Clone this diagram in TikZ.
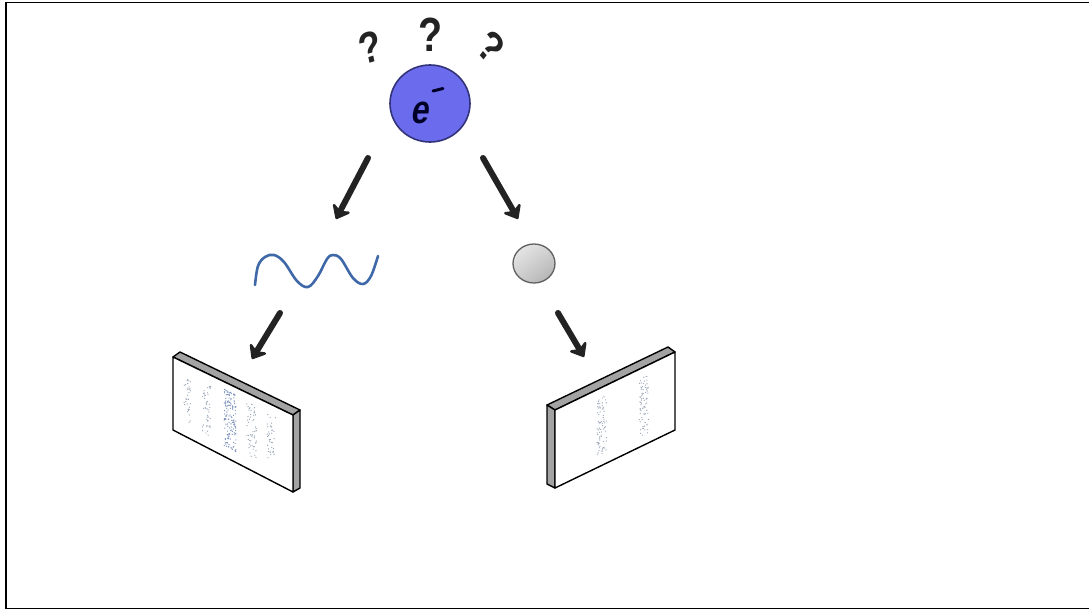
\documentclass[tikz,border=0pt]{standalone}
\usepackage{fontspec}
\newfontfamily\qfont{Liberation Sans}
\usetikzlibrary{arrows.meta,calc,shadings,shapes.geometric}
\definecolor{ink}{HTML}{232323}
\definecolor{elfill}{HTML}{6B6BEE}
\definecolor{eledge}{HTML}{33337A}
\definecolor{wave}{HTML}{3F68A8}
\definecolor{dotc}{HTML}{9AA6B8}
\definecolor{dotb}{HTML}{7A8FBA}
\definecolor{strip}{HTML}{A3A3A3}
\tikzset{
  flow/.style={ink, line width=6pt, line cap=round,
    -{Stealth[length=15pt, width=24pt, inset=5pt, round]}},
  qmark/.style={font=\qfont\bfseries\fontsize{44}{44}\selectfont, text=ink,
    inner sep=0pt, xscale=0.82},
  screenface/.style={draw=black, line width=1.4pt, line join=round, fill=white},
  screenrim/.style={draw=black, line width=1.4pt, line join=round, fill=strip},
}
% scatter dots in a band of a screen face: A = top-left, (bx,by) = top edge
\newcommand{\dotband}[9]{%
  \foreach \k in {1,...,#7}{%
    \pgfmathsetmacro\uu{#5+#6*rand}%
    \pgfmathsetmacro\vv{#8+(#9-#8)*rnd}%
    \fill[\dotcol] ({#1+\uu*#3},{#2+\uu*#4+\vv*\dyface}) circle (0.65);
  }%
}
\begin{document}
\begin{tikzpicture}[x=1pt, y=-1pt]
\useasboundingbox (0,0) rectangle (1089,610);
% frame
\draw[line width=2.3pt] (6.2,1.6) -- (6.2,609.4);
\draw[line width=1.3pt] (5,2.3) -- (1089,2.3);
\draw[line width=1.2pt] (5,608.8) -- (1089,608.8);

% question marks
\node[qmark, rotate=14] (q1) at (370,47) {?};
\node[qmark, font=\qfont\bfseries\fontsize{48}{48}\selectfont] (q2) at (431,35) {?};
\node[qmark, rotate=-42] (q3) at (491,47) {?};

% electron
\node[ellipse, minimum width=80pt, minimum height=77pt, fill=elfill, draw=eledge,
      line width=1.6pt, inner sep=0pt] (el) at (430,103.5) {};
\node[font=\qfont\bfseries\fontsize{32}{32}\selectfont, text=black!85!blue,
      yscale=1.25, xslant=0.22, inner sep=0pt] (e) at (421,113) {e};
\draw[line width=3pt, black!85!blue, line cap=round] (433,91) -- (443,88.5);

% arrows from the electron
\coordinate (a1s) at (368,158);
\coordinate (a1e) at (336,219);
\coordinate (a2s) at (483,158);
\coordinate (a2e) at (518,219);
\draw[flow] (a1s) -- (a1e);
\draw[flow] (a2s) -- (a2e);

% wave
\draw[wave, line width=2.6pt, line cap=round, line join=round]
  plot[smooth, tension=0.6] coordinates {(255,285) (258,266) (265,257) (274,255) (284,262) (297,281) (308,287) (318,276) (327,259) (333,255) (341,259) (353,278) (363,284) (371,276) (378,256)};

% particle
\shade[upper left=gray!15, upper right=gray!35, lower left=gray!40, lower right=gray!65,
       draw=gray!75!black, line width=1.3pt]
  (534,263.5) ellipse (21 and 19.5);

% arrows to the screens
\coordinate (a3s) at (280,313);
\coordinate (a3e) at (252,359);
\coordinate (a4s) at (558,313);
\coordinate (a4e) at (584,357);
\draw[flow] (a3s) -- (a3e);
\draw[flow] (a4s) -- (a4e);

% left screen
\path[screenrim] (173,357) -- (180,352) -- (300,410) -- (293,415) -- cycle;
\path[screenrim] (293,415) -- (300,410) -- (300,488) -- (293,492) -- cycle;
\path[screenface] (173,357) -- (293,415) -- (293,492) -- (173,430) -- cycle;
\pgfmathsetseed{11}
\def\dyface{73}
\def\dotcol{dotc}
\dotband{173}{357}{120}{58}{0.116}{0.03}{34}{0.18}{0.82}
\dotband{173}{357}{120}{58}{0.28}{0.035}{45}{0.15}{0.85}
\dotband{173}{357}{120}{58}{0.655}{0.04}{55}{0.12}{0.86}
\dotband{173}{357}{120}{58}{0.82}{0.035}{38}{0.15}{0.82}
\def\dotcol{dotb}
\dotband{173}{357}{120}{58}{0.475}{0.05}{150}{0.1}{0.88}

% right screen
\path[screenrim] (547,405) -- (668,347) -- (675,352) -- (555,410) -- cycle;
\path[screenrim] (547,405) -- (555,410) -- (555,488) -- (547,484) -- cycle;
\path[screenface] (555,410) -- (675,352) -- (675,430) -- (555,488) -- cycle;
\def\dyface{78}
\def\dotcol{dotc}
\dotband{555}{410}{120}{-58}{0.39}{0.04}{75}{0.13}{0.87}
\dotband{555}{410}{120}{-58}{0.74}{0.04}{75}{0.13}{0.87}
\end{tikzpicture}
\end{document}
